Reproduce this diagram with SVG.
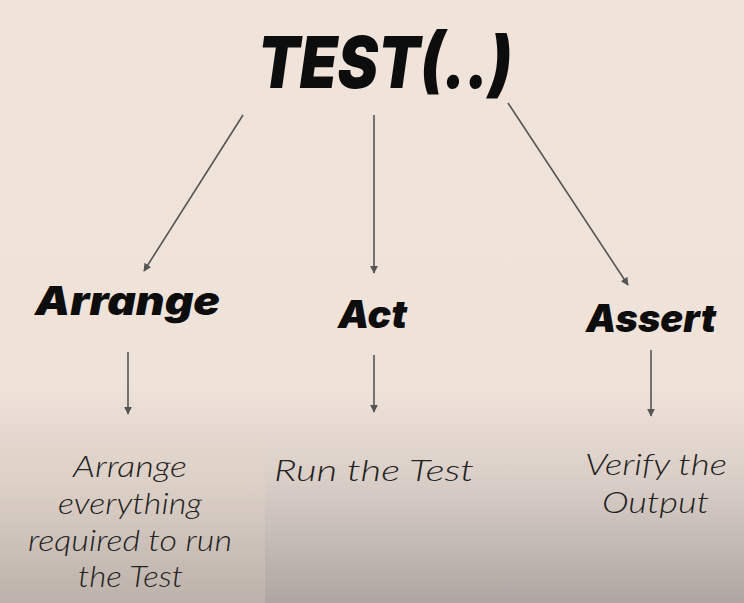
<svg xmlns="http://www.w3.org/2000/svg" width="744" height="603" viewBox="0 0 744 603">
<style>
.h{font-family:Inter,"Open Sans","Liberation Sans",sans-serif;font-weight:900;font-style:italic;fill:#0d0d0d}
.b{font-family:Lato,"Open Sans","Liberation Sans",sans-serif;font-weight:300;font-style:italic;fill:#222;font-size:30px}
.c{stroke:#555;stroke-width:1.6;fill:none;marker-end:url(#ah)}
</style>
<defs>
<linearGradient id="bg" x1="0" y1="0" x2="0" y2="1">
<stop offset="0" stop-color="#f0e3da"/>
<stop offset="0.64" stop-color="#efe2d9"/>
<stop offset="0.8" stop-color="#d9cec7"/>
<stop offset="1" stop-color="#aea6a2"/>
</linearGradient>
<marker id="ah" viewBox="0 0 10 10" refX="9" refY="5" markerWidth="5" markerHeight="5" orient="auto" markerUnits="strokeWidth">
<path d="M0,0 L10,5 L0,10 z" fill="#555"/>
</marker>
</defs>
<rect width="744" height="603" fill="url(#bg)"/>
<rect x="0" y="442" width="265" height="161" fill="#e8d8c8" opacity="0.25"/>
<g id="test"><text class="h" x="258" y="88" font-size="72" textLength="254" lengthAdjust="spacingAndGlyphs">TEST(..)</text></g>
<g id="arrange"><text class="h" x="35" y="315" font-size="40" textLength="185" lengthAdjust="spacingAndGlyphs">Arrange</text></g>
<g id="act"><text class="h" x="338" y="328" font-size="38" textLength="69" lengthAdjust="spacingAndGlyphs">Act</text></g>
<g id="assert"><text class="h" x="586" y="332" font-size="38" textLength="130" lengthAdjust="spacingAndGlyphs">Assert</text></g>
<g id="arrange-desc">
<text class="b" x="73" y="477" textLength="114" lengthAdjust="spacingAndGlyphs">Arrange</text>
<text class="b" x="58" y="514" textLength="144" lengthAdjust="spacingAndGlyphs">everything</text>
<text class="b" x="28" y="551" textLength="204" lengthAdjust="spacingAndGlyphs">required to run</text>
<text class="b" x="78" y="587" textLength="105" lengthAdjust="spacingAndGlyphs">the Test</text>
</g>
<g id="act-desc"><text class="b" x="274" y="481" textLength="200" lengthAdjust="spacingAndGlyphs">Run the Test</text></g>
<g id="assert-desc">
<text class="b" x="585" y="475" textLength="142" lengthAdjust="spacingAndGlyphs">Verify the</text>
<text class="b" x="602" y="513" textLength="107" lengthAdjust="spacingAndGlyphs">Output</text>
</g>
<g id="connectors">
<line class="c" x1="243" y1="115" x2="144" y2="271"/>
<line class="c" x1="374" y1="115" x2="374" y2="273"/>
<line class="c" x1="508" y1="103" x2="628" y2="285"/>
<line class="c" x1="128" y1="352" x2="128" y2="414"/>
<line class="c" x1="374" y1="355" x2="374" y2="412"/>
<line class="c" x1="651" y1="350" x2="651" y2="416"/>
</g>
</svg>
